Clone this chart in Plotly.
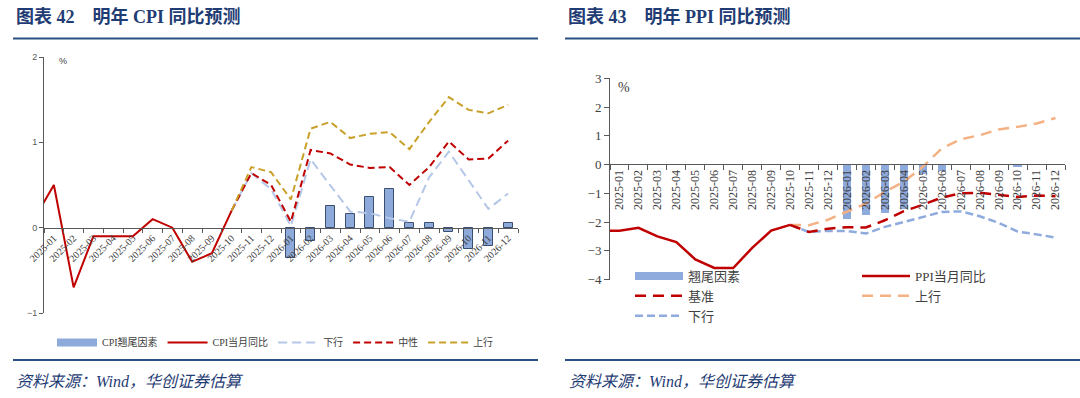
import plotly.graph_objects as go

# ---------------- data ----------------
months = ["2024-12",
          "2025-01", "2025-02", "2025-03", "2025-04", "2025-05", "2025-06",
          "2025-07", "2025-08", "2025-09", "2025-10", "2025-11", "2025-12",
          "2026-01", "2026-02", "2026-03", "2026-04", "2026-05", "2026-06",
          "2026-07", "2026-08", "2026-09", "2026-10", "2026-11", "2026-12"]
actual_months = months[:11]          # 2024-12 .. 2025-10
forecast_months = months[10:]        # 2025-10 .. 2026-12
carry_months = months[13:]           # 2026-01 .. 2026-12

# CPI (left)
cpi_actual = [0.1, 0.5, -0.7, -0.1, -0.1, -0.1, 0.1, 0.0, -0.4, -0.3, 0.2]
cpi_carry = [-0.35, -0.16, 0.25, 0.16, 0.36, 0.45, 0.05, 0.05, -0.05, -0.25, -0.21, 0.05]
cpi_down = [0.2, 0.64, 0.45, 0.02, 0.80, 0.50, 0.19, 0.17, 0.11, 0.07, 0.59, 0.89, 0.56, 0.22, 0.40]
cpi_mid = [0.2, 0.64, 0.50, 0.07, 0.91, 0.87, 0.74, 0.70, 0.71, 0.50, 0.71, 1.01, 0.80, 0.81, 1.02]
cpi_up = [0.2, 0.71, 0.65, 0.33, 1.16, 1.24, 1.05, 1.10, 1.12, 0.92, 1.24, 1.53, 1.38, 1.34, 1.44]

# PPI (right)
ppi_actual = [-2.3, -2.3, -2.2, -2.5, -2.7, -3.3, -3.6, -3.6, -2.9, -2.3, -2.1]
ppi_carry = [-1.90, -1.77, -1.71, -1.55, -0.35, -0.25, -0.02, -0.02, -0.02, -0.10, 0.0, 0.0]
ppi_base = [-2.1, -2.35, -2.23, -2.18, -2.19, -1.94, -1.62, -1.40, -1.15, -1.00, -0.98, -1.05, -1.13, -1.08, -1.10]
ppi_up = [-2.1, -2.11, -1.92, -1.65, -1.36, -0.95, -0.60, -0.08, 0.56, 0.88, 1.02, 1.22, 1.31, 1.43, 1.62]
ppi_down = [-2.1, -2.35, -2.31, -2.31, -2.40, -2.17, -2.00, -1.83, -1.65, -1.63, -1.80, -2.03, -2.33, -2.43, -2.54]

# ---------------- style ----------------
W, H = 1080, 398
RED = "#c00000"
NAVY = "#1f3c74"
RULE = "#2b5082"
SERIF = "Liberation Serif, Noto Sans CJK SC"
CPI_BAR = "#8eaadb"
PPI_BAR = "#8faadc"


def px(x):
    return x / W


def py(y):
    return (H - y) / H


fig = go.Figure()

# ---- left chart: CPI ----
fig.add_trace(go.Bar(x=carry_months, y=cpi_carry, name="CPI翘尾因素", width=0.46,
                     marker=dict(color=CPI_BAR, line=dict(color="#3b4e70", width=1)),
                     xaxis="x", yaxis="y", showlegend=False))
# legend entry for the bar series (wide bar swatch as in the original)
fig.add_trace(go.Scatter(x=[None], y=[None], name="CPI翘尾因素", mode="lines",
                         line=dict(color=CPI_BAR, width=8), xaxis="x", yaxis="y", legend="legend"))
fig.add_trace(go.Scatter(x=actual_months, y=cpi_actual, name="CPI当月同比", mode="lines",
                         line=dict(color=RED, width=2), xaxis="x", yaxis="y", legend="legend"))
fig.add_trace(go.Scatter(x=forecast_months, y=cpi_down, name="下行", mode="lines",
                         line=dict(color="#b4c7e7", width=2, dash="9px,5px"),
                         xaxis="x", yaxis="y", legend="legend"))
fig.add_trace(go.Scatter(x=forecast_months, y=cpi_mid, name="中性", mode="lines",
                         line=dict(color=RED, width=2, dash="7px,4px"),
                         xaxis="x", yaxis="y", legend="legend"))
fig.add_trace(go.Scatter(x=forecast_months, y=cpi_up, name="上行", mode="lines",
                         line=dict(color="#c9a12a", width=2, dash="7px,4px"),
                         xaxis="x", yaxis="y", legend="legend"))

# ---- right chart: PPI ----
fig.add_trace(go.Bar(x=carry_months, y=ppi_carry, name="翘尾因素", width=0.45,
                     marker=dict(color=PPI_BAR, line=dict(width=0)),
                     xaxis="x2", yaxis="y2", showlegend=False))
fig.add_trace(go.Scatter(x=[None], y=[None], name="翘尾因素", mode="lines",
                         line=dict(color=PPI_BAR, width=8), xaxis="x2", yaxis="y2",
                         legend="legend2", legendrank=1))
fig.add_trace(go.Scatter(x=forecast_months, y=ppi_down, name="下行", mode="lines",
                         line=dict(color="#8faadc", width=2.5, dash="8px,4px"),
                         xaxis="x2", yaxis="y2", legend="legend2", legendrank=3))
fig.add_trace(go.Scatter(x=forecast_months, y=ppi_up, name="上行", mode="lines",
                         line=dict(color="#f4b183", width=2.5, dash="11px,7px"),
                         xaxis="x2", yaxis="y2", legend="legend3", legendrank=2))
fig.add_trace(go.Scatter(x=forecast_months, y=ppi_base, name="基准", mode="lines",
                         line=dict(color=RED, width=2.5, dash="11px,7px"),
                         xaxis="x2", yaxis="y2", legend="legend2", legendrank=2))
fig.add_trace(go.Scatter(x=actual_months, y=ppi_actual, name="PPI当月同比", mode="lines",
                         line=dict(color=RED, width=2.5),
                         xaxis="x2", yaxis="y2", legend="legend3", legendrank=1))

common_x = dict(type="category", categoryorder="array", categoryarray=months,
                range=[0.5, 24.5], tickson="boundaries", ticks="outside", ticklen=4,
                tickcolor="#595959", showline=True, linecolor="#595959", linewidth=1,
                showgrid=False, zeroline=False, anchor="free", automargin=False)
common_y = dict(showline=True, linecolor="#595959", linewidth=1, ticks="outside",
                ticklen=4, tickcolor="#595959", showgrid=False, zeroline=False, dtick=1,
                automargin=False)

fig.update_layout(
    width=W, height=H, margin=dict(l=0, r=0, t=0, b=0, autoexpand=False),
    paper_bgcolor="white", plot_bgcolor="rgba(0,0,0,0)",
    bargap=0,
    xaxis=dict(common_x, domain=[px(44), px(518)], position=py(227.5), tickangle=-45,
               tickfont=dict(family=SERIF, size=10, color="#404040")),
    yaxis=dict(common_y, domain=[py(313), py(57)], range=[-1, 2], anchor="x",
               tickfont=dict(family="Liberation Sans", size=9, color="#595959")),
    xaxis2=dict(common_x, domain=[px(610), px(1065)], position=py(164.3), tickangle=-90,
                ticklen=5, tickfont=dict(family=SERIF, size=12, color="#404040")),
    yaxis2=dict(common_y, domain=[py(279.5), py(78.3)], range=[-4, 3], anchor="x2", ticklen=5,
                tickfont=dict(family="Liberation Serif", size=13, color="#404040")),
    legend=dict(orientation="h", x=px(52), y=py(328), xanchor="left", yanchor="top",
                font=dict(family=SERIF, size=10, color="#404040"), bgcolor="rgba(0,0,0,0)",
                traceorder="normal", itemwidth=40),
    legend2=dict(orientation="v", x=px(630), y=py(261), xanchor="left", yanchor="top",
                 font=dict(family=SERIF, size=13, color="#404040"), bgcolor="rgba(0,0,0,0)",
                 traceorder="normal", tracegroupgap=0, itemwidth=48),
    legend3=dict(orientation="v", x=px(857), y=py(261), xanchor="left", yanchor="top",
                 font=dict(family=SERIF, size=13, color="#404040"), bgcolor="rgba(0,0,0,0)",
                 traceorder="normal", tracegroupgap=0, itemwidth=48),
    showlegend=True,
)

# titles, rules, sources (page decoration)
ann = []
for x0, txt in [(14, "图表 42　明年 CPI 同比预测"), (566, "图表 43　明年 PPI 同比预测")]:
    ann.append(dict(x=px(x0), y=py(16.5), xref="paper", yref="paper", xanchor="left",
                    yanchor="middle", showarrow=False, text="<b>" + txt + "</b>",
                    font=dict(family=SERIF, size=18, color=NAVY)))
for x0 in (14, 567):
    ann.append(dict(x=px(x0), y=py(381), xref="paper", yref="paper", xanchor="left",
                    yanchor="middle", showarrow=False, text="<i>资料来源：Wind，华创证券估算</i>",
                    font=dict(family=SERIF, size=16, color=NAVY)))
ann.append(dict(x=px(57), y=py(61), xref="paper", yref="paper", xanchor="left", yanchor="middle",
                showarrow=False, text="%", font=dict(family="Liberation Sans", size=9, color="#404040")))
ann.append(dict(x=px(616), y=py(87), xref="paper", yref="paper", xanchor="left", yanchor="middle",
                showarrow=False, text="%", font=dict(family="Liberation Serif", size=14, color="#404040")))
fig.update_layout(annotations=ann)

shapes = []
for (a, b) in [(13, 538), (565, 1080)]:
    for yy in (38.5, 360):
        shapes.append(dict(type="line", xref="paper", yref="paper", x0=px(a), x1=px(b),
                           y0=py(yy), y1=py(yy), line=dict(color=RULE, width=2)))
fig.update_layout(shapes=shapes)

fig.write_html("out.html", config={"displayModeBar": False},
               post_script="document.body.style.margin='0px';document.body.style.overflow='hidden';")
